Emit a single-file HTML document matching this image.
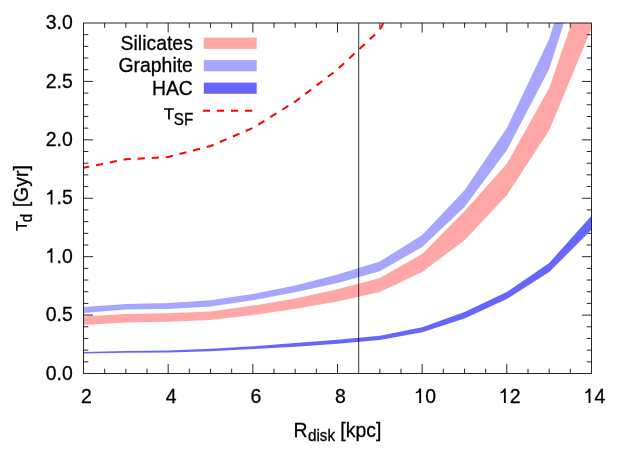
<!DOCTYPE html>
<html><head><meta charset="utf-8">
<style>
html,body{margin:0;padding:0;background:#fff;}
svg{display:block;will-change:transform;}
text{font-family:"Liberation Sans",sans-serif;font-size:20.9px;fill:#000;stroke:#000;stroke-width:0.3px;}
.s{font-size:16.4px;}
</style></head><body>
<svg width="623" height="467" viewBox="0 0 623 467">
<rect x="0" y="0" width="623" height="467" fill="#fff"/>
<defs><clipPath id="c"><rect x="83.5" y="23.0" width="508.0" height="350.5"/></clipPath></defs>
<g><text transform="translate(86.50,403.05) scale(0.93,1)" text-anchor="middle">2</text><text transform="translate(171.17,403.05) scale(0.93,1)" text-anchor="middle">4</text><text transform="translate(255.83,403.05) scale(0.93,1)" text-anchor="middle">6</text><text transform="translate(340.50,403.05) scale(0.93,1)" text-anchor="middle">8</text><text transform="translate(425.17,403.05) scale(0.93,1)" text-anchor="middle"><tspan style="fill:none;stroke:none">1</tspan>0</text><path d="M421.12,403.05h-1.85v-10.7l-3.45,1.2v-1.5q2.9,-1.1 3.6,-3.65h1.7z" fill="#000"/><text transform="translate(509.83,403.05) scale(0.93,1)" text-anchor="middle"><tspan style="fill:none;stroke:none">1</tspan>2</text><path d="M505.78,403.05h-1.85v-10.7l-3.45,1.2v-1.5q2.9,-1.1 3.6,-3.65h1.7z" fill="#000"/><text transform="translate(594.50,403.05) scale(0.93,1)" text-anchor="middle"><tspan style="fill:none;stroke:none">1</tspan>4</text><path d="M590.45,403.05h-1.85v-10.7l-3.45,1.2v-1.5q2.9,-1.1 3.6,-3.65h1.7z" fill="#000"/></g>
<g><text transform="translate(72.70,379.70) scale(0.93,1)" text-anchor="end">0.0</text><text transform="translate(72.70,321.28) scale(0.93,1)" text-anchor="end">0.5</text><text transform="translate(72.70,262.87) scale(0.93,1)" text-anchor="end"><tspan style="fill:none;stroke:none">1</tspan>.0</text><path d="M52.45,262.87h-1.85v-10.7l-3.45,1.2v-1.5q2.9,-1.1 3.6,-3.65h1.7z" fill="#000"/><text transform="translate(72.70,204.45) scale(0.93,1)" text-anchor="end"><tspan style="fill:none;stroke:none">1</tspan>.5</text><path d="M52.45,204.45h-1.85v-10.7l-3.45,1.2v-1.5q2.9,-1.1 3.6,-3.65h1.7z" fill="#000"/><text transform="translate(72.70,146.03) scale(0.93,1)" text-anchor="end">2.0</text><text transform="translate(72.70,87.62) scale(0.93,1)" text-anchor="end">2.5</text><text transform="translate(72.70,29.20) scale(0.93,1)" text-anchor="end">3.0</text></g>
<path d="M104.67,373.5v-4.8M104.67,23.0v4.8M125.83,373.5v-4.8M125.83,23.0v4.8M147.00,373.5v-4.8M147.00,23.0v4.8M168.17,373.5v-9.5M168.17,23.0v9.5M189.33,373.5v-4.8M189.33,23.0v4.8M210.50,373.5v-4.8M210.50,23.0v4.8M231.67,373.5v-4.8M231.67,23.0v4.8M252.83,373.5v-9.5M252.83,23.0v9.5M274.00,373.5v-4.8M274.00,23.0v4.8M295.17,373.5v-4.8M295.17,23.0v4.8M316.33,373.5v-4.8M316.33,23.0v4.8M337.50,373.5v-9.5M337.50,23.0v9.5M379.83,373.5v-4.8M379.83,23.0v4.8M401.00,373.5v-4.8M401.00,23.0v4.8M422.17,373.5v-9.5M422.17,23.0v9.5M443.33,373.5v-4.8M443.33,23.0v4.8M464.50,373.5v-4.8M464.50,23.0v4.8M485.67,373.5v-4.8M485.67,23.0v4.8M506.83,373.5v-9.5M506.83,23.0v9.5M528.00,373.5v-4.8M528.00,23.0v4.8M549.17,373.5v-4.8M549.17,23.0v4.8M570.33,373.5v-4.8M570.33,23.0v4.8M83.5,361.82h4.8M591.5,361.82h-4.8M83.5,350.13h4.8M591.5,350.13h-4.8M83.5,338.45h4.8M591.5,338.45h-4.8M83.5,326.77h4.8M591.5,326.77h-4.8M83.5,315.08h9.5M591.5,315.08h-9.5M83.5,303.40h4.8M591.5,303.40h-4.8M83.5,291.72h4.8M591.5,291.72h-4.8M83.5,280.03h4.8M591.5,280.03h-4.8M83.5,268.35h4.8M591.5,268.35h-4.8M83.5,256.67h9.5M591.5,256.67h-9.5M83.5,244.98h4.8M591.5,244.98h-4.8M83.5,233.30h4.8M591.5,233.30h-4.8M83.5,221.62h4.8M591.5,221.62h-4.8M83.5,209.93h4.8M591.5,209.93h-4.8M83.5,198.25h9.5M591.5,198.25h-9.5M83.5,186.57h4.8M591.5,186.57h-4.8M83.5,174.88h4.8M591.5,174.88h-4.8M83.5,163.20h4.8M591.5,163.20h-4.8M83.5,151.52h4.8M591.5,151.52h-4.8M83.5,139.83h9.5M591.5,139.83h-9.5M83.5,128.15h4.8M591.5,128.15h-4.8M83.5,116.47h4.8M591.5,116.47h-4.8M83.5,104.78h4.8M591.5,104.78h-4.8M83.5,93.10h4.8M591.5,93.10h-4.8M83.5,81.42h9.5M591.5,81.42h-9.5M83.5,69.73h4.8M591.5,69.73h-4.8M83.5,58.05h4.8M591.5,58.05h-4.8M83.5,46.37h4.8M591.5,46.37h-4.8M83.5,34.68h4.8M591.5,34.68h-4.8" stroke="#000" stroke-width="0.85" fill="none"/>
<g clip-path="url(#c)">
<polygon points="83.5,316.6 125.8,314.1 168.2,313.3 210.5,311.4 252.8,305.6 295.2,298.5 337.5,289.2 379.8,278.0 422.2,254.0 464.5,211.3 506.8,163.8 549.2,88.0 591.5,-35.0 591.5,28.6 549.2,130.3 506.8,195.3 464.5,240.2 422.2,272.1 379.8,291.9 337.5,301.6 295.2,308.8 252.8,315.1 210.5,319.9 168.2,321.8 125.8,322.4 83.5,325.1" fill="#ff0000" fill-opacity="0.35"/>
<polygon points="83.5,307.0 125.8,303.9 168.2,303.1 210.5,300.2 252.8,293.9 295.2,285.5 337.5,274.6 379.8,261.6 422.2,235.0 464.5,190.2 506.8,127.9 549.2,39.0 591.5,-98.0 591.5,-63.0 549.2,68.9 506.8,150.3 464.5,207.1 422.2,247.0 379.8,271.2 337.5,282.9 295.2,292.2 252.8,300.2 210.5,306.6 168.2,308.9 125.8,309.6 83.5,313.0" fill="#0000ff" fill-opacity="0.35"/>
<polygon points="83.5,351.9 125.8,351.0 168.2,350.4 210.5,348.8 252.8,346.3 295.2,343.1 337.5,339.8 379.8,335.8 422.2,327.2 464.5,312.1 506.8,292.0 549.2,262.9 591.5,215.7 591.5,229.7 549.2,271.9 506.8,299.1 464.5,318.5 422.2,332.2 379.8,340.0 337.5,343.8 295.2,346.8 252.8,349.1 210.5,351.2 168.2,352.4 125.8,352.7 83.5,353.5" fill="#6666ff"/>
<polyline points="83.5,167.8 125.8,159.3 168.2,157.0 210.5,146.0 252.8,128.0 295.2,101.7 337.5,69.4 379.8,30.0 422.2,-55.0" fill="none" stroke="#ff0000" stroke-width="2" stroke-dasharray="7.2 6.88" stroke-dashoffset="1.3"/>
</g>
<line x1="358.7" y1="23.0" x2="358.7" y2="373.5" stroke="#000" stroke-width="0.8"/>
<rect x="83.5" y="23.0" width="508.0" height="350.5" fill="none" stroke="#000" stroke-width="0.85"/>
<!-- legend -->
<text transform="translate(192.90,49.60) scale(0.93,1)" text-anchor="end">Silicates</text>
<rect x="203.8" y="37.6" width="52.9" height="11.2" fill="#ffa6a6"/>
<text transform="translate(192.90,72.10) scale(0.93,1)" text-anchor="end">Graphite</text>
<rect x="203.8" y="60.1" width="52.9" height="11.2" fill="#a6a6ff"/>
<text transform="translate(192.90,94.60) scale(0.93,1)" text-anchor="end">HAC</text>
<rect x="203.8" y="82.6" width="52.9" height="11.2" fill="#6666ff"/>
<text transform="translate(173.00,119.40) scale(0.93,1)" text-anchor="end" style="fill:none;stroke:none">τ</text>
<path d="M164,108.3h9.9v1.45h-4.05v9.65h-1.75v-9.65h-4.1z" fill="#000"/>
<text transform="translate(193.20,124.80) scale(0.93,1)" text-anchor="end" class="s">SF</text>
<line x1="202.8" y1="110.8" x2="252.4" y2="110.8" stroke="#ff0000" stroke-width="2" stroke-dasharray="7.2 6.88"/>
<!-- x axis title -->
<text transform="translate(293.40,436.70) scale(0.93,1)">R</text>
<text transform="translate(308.00,441.20) scale(0.93,1)" class="s">disk</text>
<text transform="translate(340.30,436.70) scale(0.93,1)">[kpc]</text>
<!-- y axis title -->
<text transform="translate(26.80,231.00) rotate(-90) scale(0.93,1)" style="fill:none;stroke:none">τ</text>
<path d="M16.1,221h1.5v4.05h9.3v1.75h-9.3v4.05h-1.5z" fill="#000"/>
<text transform="translate(32.10,222.20) rotate(-90) scale(0.93,1)" class="s">d</text>
<text transform="translate(27.60,207.30) rotate(-90) scale(0.93,1)">[Gyr]</text>
</svg>
</body></html>
